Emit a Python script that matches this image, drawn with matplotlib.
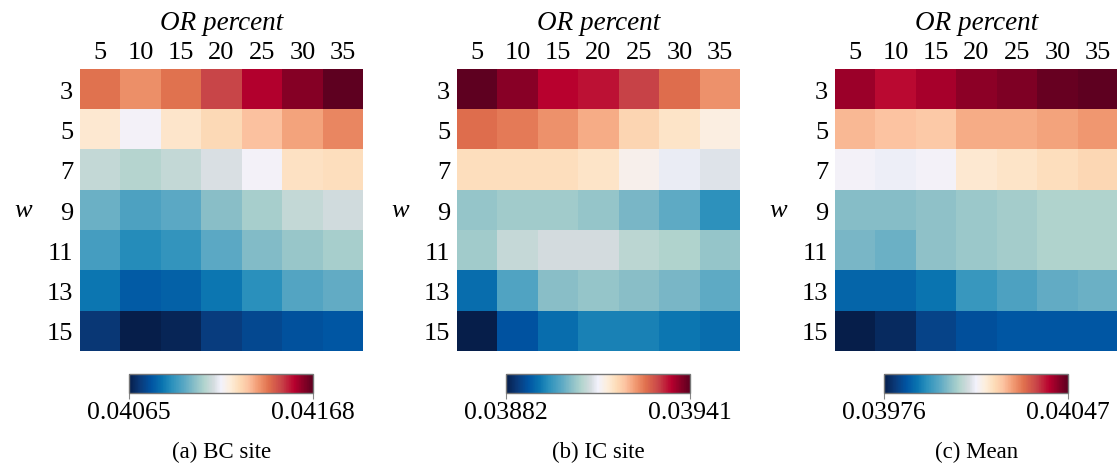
import matplotlib.pyplot as plt
import numpy as np
from matplotlib.colors import LinearSegmentedColormap

or_percent = [5, 10, 15, 20, 25, 30, 35]
w_sizes = [3, 5, 7, 9, 11, 13, 15]

bc_site = [
    [0.04143, 0.04139, 0.04143, 0.04150, 0.04158, 0.04163, 0.04168],
    [0.04123, 0.04117, 0.04124, 0.04127, 0.04132, 0.04136, 0.04140],
    [0.04110, 0.04108, 0.04110, 0.04113, 0.04117, 0.04125, 0.04126],
    [0.04098, 0.04094, 0.04096, 0.04102, 0.04106, 0.04110, 0.04112],
    [0.04093, 0.04088, 0.04090, 0.04096, 0.04101, 0.04104, 0.04106],
    [0.04084, 0.04079, 0.04080, 0.04084, 0.04089, 0.04095, 0.04097],
    [0.04071, 0.04065, 0.04067, 0.04072, 0.04075, 0.04077, 0.04078],
]
ic_site = [
    [0.03941, 0.03938, 0.03935, 0.03934, 0.03931, 0.03927, 0.03924],
    [0.03927, 0.03926, 0.03924, 0.03922, 0.03918, 0.03916, 0.03914],
    [0.03917, 0.03917, 0.03917, 0.03916, 0.03913, 0.03911, 0.03910],
    [0.03904, 0.03905, 0.03905, 0.03904, 0.03902, 0.03900, 0.03896],
    [0.03905, 0.03908, 0.03909, 0.03909, 0.03907, 0.03906, 0.03904],
    [0.03892, 0.03899, 0.03903, 0.03904, 0.03903, 0.03902, 0.03900],
    [0.03882, 0.03889, 0.03892, 0.03894, 0.03894, 0.03893, 0.03892],
]
mean_vals = [
    [0.04042, 0.04039, 0.04041, 0.04043, 0.04044, 0.04046, 0.04047],
    [0.04023, 0.04022, 0.04021, 0.04024, 0.04024, 0.04025, 0.04026],
    [0.04012, 0.04011, 0.04012, 0.04016, 0.04017, 0.04018, 0.04019],
    [0.04001, 0.04001, 0.04002, 0.04003, 0.04004, 0.04005, 0.04005],
    [0.04000, 0.03999, 0.04002, 0.04003, 0.04004, 0.04005, 0.04005],
    [0.03987, 0.03987, 0.03989, 0.03994, 0.03996, 0.03998, 0.03999],
    [0.03976, 0.03978, 0.03982, 0.03984, 0.03985, 0.03985, 0.03985],
]
captions = ["(a) BC site", "(b) IC site", "(c) Mean"]

cmap = LinearSegmentedColormap.from_list("bluered", [
    (0.00, "#061e4a"), (0.06, "#0a3a7a"), (0.12, "#0054a2"),
    (0.18, "#0a74b0"), (0.23, "#2a90bc"), (0.30, "#5aa8c4"),
    (0.36, "#8cc0c8"), (0.41, "#b2d4ce"), (0.46, "#d4dcdf"),
    (0.50, "#f2f2fc"), (0.55, "#fdeedc"), (0.60, "#fddcb8"),
    (0.65, "#fcc2a0"), (0.70, "#f29c74"), (0.76, "#e0704e"),
    (0.83, "#c84448"), (0.90, "#b8002e"), (0.95, "#880026"),
    (1.00, "#5e0020"),
])

plt.rcParams['font.family'] = ['Liberation Serif', 'DejaVu Serif']

W, H = 1117, 464
fig = plt.figure(figsize=(W / 100, H / 100), dpi=100)

lefts = [80, 457, 835]
for i, data in enumerate([bc_site, ic_site, mean_vals]):
    arr = np.array(data)
    vmin, vmax = arr.min(), arr.max()
    x0 = lefts[i]
    ax = fig.add_axes([x0 / W, (H - 352) / H, 283 / W, 282 / H])
    im = ax.imshow(arr, cmap=cmap, vmin=vmin, vmax=vmax, aspect='auto',
                   interpolation='nearest')
    ax.xaxis.tick_top()
    ax.xaxis.set_label_position('top')
    ax.set_xticks(range(len(or_percent)))
    ax.set_xticklabels([str(v) for v in or_percent])
    ax.set_yticks(range(len(w_sizes)))
    ax.set_yticklabels([str(v) for v in w_sizes])
    ax.tick_params(length=0, labelsize=19)
    ax.tick_params(axis='x', pad=4)
    ax.tick_params(axis='y', pad=5)
    ax.set_xlabel("OR percent", fontsize=19.5, style='italic', labelpad=9)
    ax.set_ylabel("w", fontsize=19, style='italic', rotation=0,
                  va='center', labelpad=17)
    for s in ax.spines.values():
        s.set_visible(False)

    cax = fig.add_axes([(x0 + 49) / W, (H - 394) / H, 184 / W, 19 / H])
    cb = fig.colorbar(im, cax=cax, orientation='horizontal',
                      ticks=[vmin, vmax])
    cb.ax.set_xticklabels([f"{vmin:.5f}", f"{vmax:.5f}"])
    cb.ax.tick_params(labelsize=18.5, length=4, color='#888888', pad=2)
    cb.outline.set_edgecolor('#777777')
    cb.outline.set_linewidth(1.0)

    fig.text((x0 + 141.5) / W, 1 - 452 / H, captions[i], fontsize=16.5,
             ha='center', va='center')

fig.savefig("out.png", dpi=100)
